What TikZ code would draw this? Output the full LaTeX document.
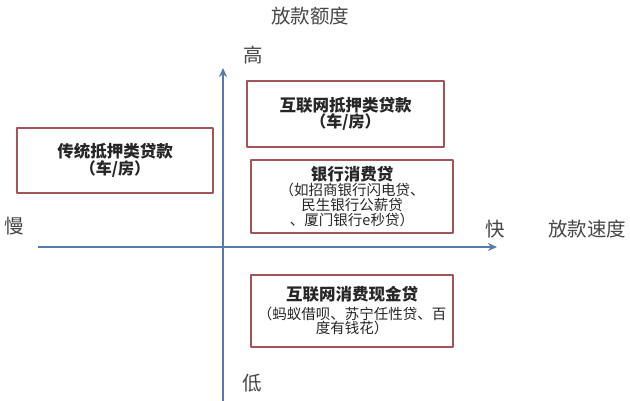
\documentclass[tikz,border=0pt]{standalone}
\usepackage{fontspec}
\setmainfont{Noto Sans CJK SC}
\usetikzlibrary{arrows.meta}
\definecolor{axisblue}{RGB}{84,124,178}
\definecolor{boxred}{RGB}{165,85,90}
\definecolor{labelgray}{RGB}{70,70,70}
\newcommand{\boxtitle}{\fontsize{16.5}{21}\selectfont\bfseries}
\newcommand{\boxsub}{\fontsize{16}{20}\selectfont\bfseries}
\newcommand{\boxnote}{\fontsize{14.5}{15}\selectfont}
\tikzset{
	loanbox/.style={draw=boxred, line width=1.3pt, align=center, inner sep=0pt, text=black!85},
	axislabel/.style={text=labelgray, font=\fontsize{19.5}{20}\selectfont},
	axisline/.style={draw=axisblue, line width=2pt, -{Stealth[length=9pt,width=8pt]}}
}
\begin{document}
\begin{tikzpicture}[x=1pt, y=-1pt, line join=round]
	\useasboundingbox (0,0) rectangle (630,400);
	\path
	(223,403) coordinate (ybot)
	(223,68) coordinate (ytop)
	(38,247) coordinate (xleft)
	(497,247) coordinate (xright)
	;
	% axes
	\draw[axisline] (ybot)--(ytop);
	\draw[axisline] (xleft)--(xright);
	\foreach \n/\p/\t in {ylab/{310,16}/放款额度, high/{253,55}/高, low/{252,383}/低, slow/{14,226}/慢, fast/{495,229}/快, xlab/{587,229}/放款速度}
	\node[axislabel] (\n) at (\p) {\t};
	% loan boxes
	\node[loanbox, minimum width=197pt, minimum height=66pt] (netmortgage) at (345.5,114)
	{{\boxtitle 互联网抵押类贷款}\\{\boxsub （车/房）}};
	\node[loanbox, minimum width=196pt, minimum height=65pt] (oldmortgage) at (115,160.5)
	{{\boxtitle 传统抵押类贷款}\\{\boxsub （车/房）}};
	\node[loanbox, minimum width=202pt, minimum height=73pt] (bankloan) at (352,196.5)
	{{\boxtitle 银行消费贷}\\{\boxnote （如招商银行闪电贷、}\\{\boxnote 民生银行公薪贷}\\{\boxnote 、厦门银行e秒贷）}};
	\node[loanbox, minimum width=202pt, minimum height=72pt] (netcash) at (352,311)
	{{\boxtitle 互联网消费现金贷}\\[3pt]{\boxnote （蚂蚁借呗、苏宁任性贷、百}\\{\boxnote 度有钱花）}};
\end{tikzpicture}
\end{document}
